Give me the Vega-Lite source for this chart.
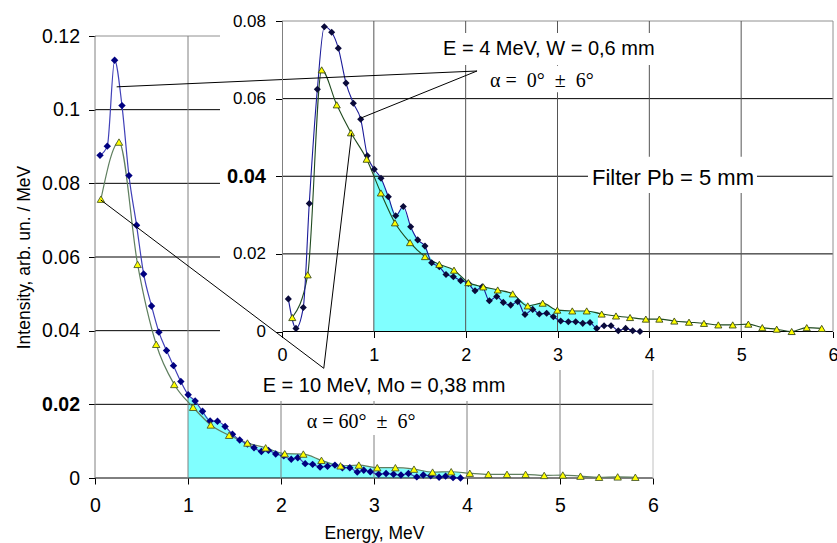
{
  "$schema": "https://vega.github.io/schema/vega-lite/v6.json",
  "width": 558,
  "height": 442,
  "autosize": {"type": "none"},
  "padding": {"left": 95, "top": 36, "right": 184, "bottom": 65},
  "background": "white",
  "config": {
    "view": {"stroke": null},
    "font": "Liberation Sans",
    "axis": {"labelFont": "Liberation Sans", "titleFont": "Liberation Sans", "labelColor": "#000", "titleColor": "#000"}
  },
  "datasets": {
    "mainBlue": [
      {"energy": 0.054, "intensity": 0.0876}, {"energy": 0.132, "intensity": 0.0901}, {"energy": 0.211, "intensity": 0.1134},
      {"energy": 0.290, "intensity": 0.1011}, {"energy": 0.365, "intensity": 0.0821}, {"energy": 0.447, "intensity": 0.0686},
      {"energy": 0.523, "intensity": 0.0554}, {"energy": 0.608, "intensity": 0.0467}, {"energy": 0.687, "intensity": 0.0396},
      {"energy": 0.769, "intensity": 0.0346}, {"energy": 0.844, "intensity": 0.0305}, {"energy": 0.923, "intensity": 0.0262},
      {"energy": 1.002, "intensity": 0.0226}, {"energy": 1.077, "intensity": 0.0209}, {"energy": 1.156, "intensity": 0.0181},
      {"energy": 1.238, "intensity": 0.0155}, {"energy": 1.317, "intensity": 0.0154}, {"energy": 1.399, "intensity": 0.0140},
      {"energy": 1.478, "intensity": 0.0119}, {"energy": 1.556, "intensity": 0.0103}, {"energy": 1.639, "intensity": 0.0092},
      {"energy": 1.710, "intensity": 0.0082}, {"energy": 1.789, "intensity": 0.0072}, {"energy": 1.865, "intensity": 0.0075},
      {"energy": 1.943, "intensity": 0.0065}, {"energy": 2.030, "intensity": 0.0060}, {"energy": 2.110, "intensity": 0.0051},
      {"energy": 2.180, "intensity": 0.0055}, {"energy": 2.260, "intensity": 0.0039}, {"energy": 2.340, "intensity": 0.0037},
      {"energy": 2.420, "intensity": 0.0030}, {"energy": 2.500, "intensity": 0.0032}, {"energy": 2.580, "intensity": 0.0035},
      {"energy": 2.660, "intensity": 0.0028}, {"energy": 2.740, "intensity": 0.0028}, {"energy": 2.820, "intensity": 0.0016},
      {"energy": 2.890, "intensity": 0.0021}, {"energy": 2.960, "intensity": 0.0017}, {"energy": 3.050, "intensity": 0.0010},
      {"energy": 3.130, "intensity": 0.0012}, {"energy": 3.210, "intensity": 0.0010}, {"energy": 3.290, "intensity": 0.0008},
      {"energy": 3.370, "intensity": 0.0012}, {"energy": 3.460, "intensity": 0.0003}, {"energy": 3.530, "intensity": 0.0008},
      {"energy": 3.610, "intensity": 0.0006}, {"energy": 3.700, "intensity": 0.0002}, {"energy": 3.770, "intensity": 0.0005},
      {"energy": 3.850, "intensity": 0.0001}, {"energy": 3.930, "intensity": 0.0000}
    ],
    "mainYellow": [
      {"energy": 0.064, "intensity": 0.0757}, {"energy": 0.258, "intensity": 0.0912}, {"energy": 0.458, "intensity": 0.0580},
      {"energy": 0.658, "intensity": 0.0363}, {"energy": 0.852, "intensity": 0.0254}, {"energy": 1.055, "intensity": 0.0192},
      {"energy": 1.245, "intensity": 0.0144}, {"energy": 1.442, "intensity": 0.0116}, {"energy": 1.639, "intensity": 0.0095},
      {"energy": 1.835, "intensity": 0.0082}, {"energy": 2.040, "intensity": 0.0066}, {"energy": 2.240, "intensity": 0.0065},
      {"energy": 2.435, "intensity": 0.0048}, {"energy": 2.640, "intensity": 0.0033}, {"energy": 2.837, "intensity": 0.0035},
      {"energy": 3.035, "intensity": 0.0028}, {"energy": 3.230, "intensity": 0.0028}, {"energy": 3.430, "intensity": 0.0024},
      {"energy": 3.630, "intensity": 0.0016}, {"energy": 3.830, "intensity": 0.0017}, {"energy": 4.030, "intensity": 0.0013},
      {"energy": 4.230, "intensity": 0.0010}, {"energy": 4.430, "intensity": 0.0010}, {"energy": 4.630, "intensity": 0.0010},
      {"energy": 4.830, "intensity": 0.0007}, {"energy": 5.030, "intensity": 0.0008}, {"energy": 5.220, "intensity": 0.0005},
      {"energy": 5.420, "intensity": 0.0002}, {"energy": 5.620, "intensity": 0.0003}, {"energy": 5.810, "intensity": 0.0002}
    ],
    "mainShade": [
      {"energy": 1.0, "intensity": 0.0224}, {"energy": 1.077, "intensity": 0.0209}, {"energy": 1.156, "intensity": 0.0181},
      {"energy": 1.245, "intensity": 0.0155}, {"energy": 1.317, "intensity": 0.0154}, {"energy": 1.399, "intensity": 0.0140},
      {"energy": 1.478, "intensity": 0.0119}, {"energy": 1.556, "intensity": 0.0103}, {"energy": 1.639, "intensity": 0.0095},
      {"energy": 1.710, "intensity": 0.0085}, {"energy": 1.835, "intensity": 0.0083}, {"energy": 2.040, "intensity": 0.0066},
      {"energy": 2.240, "intensity": 0.0065}, {"energy": 2.435, "intensity": 0.0048}, {"energy": 2.640, "intensity": 0.0035},
      {"energy": 2.837, "intensity": 0.0035}, {"energy": 3.035, "intensity": 0.0028}, {"energy": 3.230, "intensity": 0.0028},
      {"energy": 3.430, "intensity": 0.0024}, {"energy": 3.630, "intensity": 0.0017}, {"energy": 3.830, "intensity": 0.0017},
      {"energy": 3.930, "intensity": 0.0016}
    ],
    "insetBlue": [
      {"energy": 0.069, "intensity": 0.0084}, {"energy": 0.152, "intensity": 0.0008}, {"energy": 0.232, "intensity": 0.0062},
      {"energy": 0.297, "intensity": 0.0330}, {"energy": 0.385, "intensity": 0.0624}, {"energy": 0.461, "intensity": 0.0785},
      {"energy": 0.541, "intensity": 0.0771}, {"energy": 0.613, "intensity": 0.0730}, {"energy": 0.697, "intensity": 0.0640},
      {"energy": 0.777, "intensity": 0.0588}, {"energy": 0.857, "intensity": 0.0547}, {"energy": 0.929, "intensity": 0.0453},
      {"energy": 1.005, "intensity": 0.0418}, {"energy": 1.078, "intensity": 0.0395}, {"energy": 1.158, "intensity": 0.0347},
      {"energy": 1.238, "intensity": 0.0298}, {"energy": 1.321, "intensity": 0.0322}, {"energy": 1.401, "intensity": 0.0270},
      {"energy": 1.478, "intensity": 0.0236}, {"energy": 1.557, "intensity": 0.0220}, {"energy": 1.630, "intensity": 0.0177},
      {"energy": 1.713, "intensity": 0.0167}, {"energy": 1.786, "intensity": 0.0147}, {"energy": 1.866, "intensity": 0.0141},
      {"energy": 1.946, "intensity": 0.0131}, {"energy": 2.029, "intensity": 0.0124}, {"energy": 2.102, "intensity": 0.0105},
      {"energy": 2.181, "intensity": 0.0115}, {"energy": 2.258, "intensity": 0.0079}, {"energy": 2.338, "intensity": 0.0090},
      {"energy": 2.410, "intensity": 0.0075}, {"energy": 2.490, "intensity": 0.0068}, {"energy": 2.567, "intensity": 0.0077},
      {"energy": 2.646, "intensity": 0.0044}, {"energy": 2.730, "intensity": 0.0057}, {"energy": 2.802, "intensity": 0.0045},
      {"energy": 2.882, "intensity": 0.0047}, {"energy": 2.955, "intensity": 0.0038}, {"energy": 3.035, "intensity": 0.0027},
      {"energy": 3.118, "intensity": 0.0025}, {"energy": 3.198, "intensity": 0.0025}, {"energy": 3.275, "intensity": 0.0021},
      {"energy": 3.354, "intensity": 0.0023}, {"energy": 3.427, "intensity": 0.0008}, {"energy": 3.507, "intensity": 0.0015},
      {"energy": 3.583, "intensity": 0.0015}, {"energy": 3.662, "intensity": 0.0002}, {"energy": 3.742, "intensity": 0.0008},
      {"energy": 3.819, "intensity": 0.0002}, {"energy": 3.898, "intensity": 0.0000}
    ],
    "insetYellow": [
      {"energy": 0.112, "intensity": 0.0036}, {"energy": 0.280, "intensity": 0.0146}, {"energy": 0.432, "intensity": 0.0674},
      {"energy": 0.596, "intensity": 0.0584}, {"energy": 0.751, "intensity": 0.0512}, {"energy": 0.922, "intensity": 0.0444},
      {"energy": 1.077, "intensity": 0.0357}, {"energy": 1.230, "intensity": 0.0280}, {"energy": 1.394, "intensity": 0.0229},
      {"energy": 1.557, "intensity": 0.0193}, {"energy": 1.713, "intensity": 0.0173}, {"energy": 1.873, "intensity": 0.0158},
      {"energy": 2.029, "intensity": 0.0126}, {"energy": 2.192, "intensity": 0.0115}, {"energy": 2.349, "intensity": 0.0107},
      {"energy": 2.512, "intensity": 0.0097}, {"energy": 2.676, "intensity": 0.0066}, {"energy": 2.839, "intensity": 0.0073},
      {"energy": 2.998, "intensity": 0.0055}, {"energy": 3.161, "intensity": 0.0053}, {"energy": 3.318, "intensity": 0.0053},
      {"energy": 3.481, "intensity": 0.0045}, {"energy": 3.637, "intensity": 0.0040}, {"energy": 3.790, "intensity": 0.0036},
      {"energy": 3.962, "intensity": 0.0032}, {"energy": 4.109, "intensity": 0.0032}, {"energy": 4.272, "intensity": 0.0027},
      {"energy": 4.432, "intensity": 0.0024}, {"energy": 4.595, "intensity": 0.0021}, {"energy": 4.751, "intensity": 0.0017},
      {"energy": 4.908, "intensity": 0.0017}, {"energy": 5.078, "intensity": 0.0019}, {"energy": 5.230, "intensity": 0.0010},
      {"energy": 5.387, "intensity": 0.0006}, {"energy": 5.550, "intensity": 0.0000}, {"energy": 5.714, "intensity": 0.0010},
      {"energy": 5.877, "intensity": 0.0008}
    ],
    "insetShade": [
      {"energy": 1.0, "intensity": 0.0412}, {"energy": 1.078, "intensity": 0.0395}, {"energy": 1.158, "intensity": 0.0347},
      {"energy": 1.238, "intensity": 0.0298}, {"energy": 1.321, "intensity": 0.0322}, {"energy": 1.401, "intensity": 0.0270},
      {"energy": 1.478, "intensity": 0.0236}, {"energy": 1.557, "intensity": 0.0220}, {"energy": 1.630, "intensity": 0.0185},
      {"energy": 1.713, "intensity": 0.0173}, {"energy": 1.873, "intensity": 0.0158}, {"energy": 2.029, "intensity": 0.0126},
      {"energy": 2.192, "intensity": 0.0115}, {"energy": 2.349, "intensity": 0.0107}, {"energy": 2.512, "intensity": 0.0097},
      {"energy": 2.676, "intensity": 0.0068}, {"energy": 2.839, "intensity": 0.0073}, {"energy": 2.998, "intensity": 0.0055},
      {"energy": 3.161, "intensity": 0.0053}, {"energy": 3.318, "intensity": 0.0053}, {"energy": 3.440, "intensity": 0.0050}
    ],
    "mainGridY": [{"v": 0}, {"v": 0.02}, {"v": 0.04}, {"v": 0.06}, {"v": 0.08}, {"v": 0.1}],
    "mainGridX": [{"v": 0}, {"v": 1}, {"v": 2}, {"v": 3}, {"v": 4}, {"v": 5}],
    "insetGridY": [{"v": 0}, {"v": 0.02}, {"v": 0.04}, {"v": 0.06}],
    "insetGridX": [{"v": 1}, {"v": 2}, {"v": 3}, {"v": 4}, {"v": 5}],
    "one": [{}]
  },
  "resolve": {"scale": {"x": "independent", "y": "independent"}},
  "layer": [
    {
      "layer": [
        {
          "data": {"name": "mainShade"},
          "mark": {"type": "area", "color": "#80FFFF", "opacity": 1},
          "encoding": {
            "x": {"field": "energy", "type": "quantitative", "scale": {"domain": [0, 6], "nice": false, "zero": false}},
            "y": {"field": "intensity", "type": "quantitative", "scale": {"domain": [0, 0.12], "nice": false, "zero": false}}
          }
        },
        {
          "data": {"name": "mainGridY"},
          "mark": {"type": "rule", "color": "#000", "strokeWidth": 1},
          "encoding": {
            "y": {"field": "v", "type": "quantitative",
              "axis": {"values": [0, 0.02, 0.04, 0.06, 0.08, 0.1, 0.12], "format": "~g", "title": "Intensity, arb. un. / MeV",
                "titleFontSize": 17.5, "titleFontWeight": "normal", "titlePadding": 8,
                "labelFontSize": 19.5, "labelFontWeight": {"condition": {"test": "datum.value == 0.02", "value": "bold"}, "value": "normal"},
                "labelPadding": 9, "tickSize": 6.5, "tickColor": "#000", "domain": false, "grid": false, "labelOverlap": false, "labelFlush": false, "zindex": 0}},
            "x": {"datum": 0, "type": "quantitative"},
            "x2": {"datum": 6}
          }
        },
        {
          "data": {"name": "one"},
          "mark": {"type": "rule", "color": "#909090", "strokeWidth": 1},
          "encoding": {"y": {"datum": 0.12, "type": "quantitative"}, "x": {"datum": 0, "type": "quantitative"}, "x2": {"datum": 6}}
        },
        {
          "data": {"name": "mainGridX"},
          "mark": {"type": "rule", "color": "#808080", "strokeWidth": 1},
          "encoding": {
            "x": {"field": "v", "type": "quantitative",
              "axis": {"values": [0, 1, 2, 3, 4, 5, 6], "format": "d", "title": "Energy, MeV",
                "titleFontSize": 17.5, "titleFontWeight": "normal", "titlePadding": 10,
                "labelFontSize": 19.5, "labelPadding": 12, "tickSize": 6, "tickColor": "#000",
                "domain": false, "grid": false, "labelFlush": false, "labelOverlap": false, "zindex": 0}},
            "y": {"datum": 0, "type": "quantitative"},
            "y2": {"datum": 0.12}
          }
        },
        {
          "data": {"name": "one"},
          "mark": {"type": "rule", "color": "#C0C0C0", "strokeWidth": 1},
          "encoding": {"x": {"datum": 6, "type": "quantitative"}, "y": {"datum": 0, "type": "quantitative"}, "y2": {"datum": 0.12}}
        },
        {
          "data": {"name": "mainYellow"},
          "mark": {"type": "line", "color": "#5F7F5F", "strokeWidth": 1.2, "interpolate": "monotone"},
          "encoding": {"x": {"field": "energy", "type": "quantitative"}, "y": {"field": "intensity", "type": "quantitative"}}
        },
        {
          "data": {"name": "mainBlue"},
          "mark": {"type": "line", "color": "#4040B8", "strokeWidth": 1.2, "interpolate": "monotone"},
          "encoding": {"x": {"field": "energy", "type": "quantitative"}, "y": {"field": "intensity", "type": "quantitative"}}
        },
        {
          "data": {"name": "mainBlue"},
          "mark": {"type": "point", "shape": "diamond", "filled": true, "color": "#000080", "size": 55, "opacity": 1},
          "encoding": {"x": {"field": "energy", "type": "quantitative"}, "y": {"field": "intensity", "type": "quantitative"}}
        },
        {
          "data": {"name": "mainYellow"},
          "mark": {"type": "point", "shape": "triangle-up", "filled": true, "fill": "#FFFF00", "stroke": "#4A5A2A", "strokeWidth": 0.9, "size": 55, "opacity": 1},
          "encoding": {"x": {"field": "energy", "type": "quantitative"}, "y": {"field": "intensity", "type": "quantitative"}}
        },
        {
          "data": {"name": "one"},
          "mark": {"type": "rect", "color": "white", "opacity": 1},
          "encoding": {"x": {"datum": 1.344, "type": "quantitative"}, "x2": {"datum": 7.98}, "y": {"datum": 0.0293, "type": "quantitative"}, "y2": {"datum": 0.1298}}
        }
      ]
    },
    {
      "layer": [
        {
          "data": {"name": "insetShade"},
          "mark": {"type": "area", "color": "#80FFFF", "opacity": 1},
          "encoding": {
            "x": {"field": "energy", "type": "quantitative", "scale": {"domain": [0, 6], "range": [187, 738], "nice": false, "zero": false}},
            "y": {"field": "intensity", "type": "quantitative", "scale": {"domain": [0, 0.08], "range": [295.5, -15], "nice": false, "zero": false}}
          }
        },
        {
          "data": {"name": "insetGridY"},
          "mark": {"type": "rule", "color": "#000", "strokeWidth": 1},
          "encoding": {
            "y": {"field": "v", "type": "quantitative",
              "axis": {"orient": "left", "offset": -187, "values": [0, 0.02, 0.04, 0.06, 0.08], "format": "~g", "title": null,
                "labelFontSize": {"condition": {"test": "datum.value == 0.04", "value": 20}, "value": 17},
                "labelFontWeight": {"condition": {"test": "datum.value == 0.04", "value": "bold"}, "value": "normal"},
                "labelPadding": 10, "tickSize": 6.5, "tickColor": "#000", "domain": true, "domainColor": "#808080",
                "grid": false, "labelOverlap": false, "labelFlush": false, "zindex": 1}},
            "x": {"datum": 0, "type": "quantitative"},
            "x2": {"datum": 6}
          }
        },
        {
          "data": {"name": "one"},
          "mark": {"type": "rule", "color": "#909090", "strokeWidth": 1},
          "encoding": {"y": {"datum": 0.08, "type": "quantitative"}, "x": {"datum": 0, "type": "quantitative"}, "x2": {"datum": 6}}
        },
        {
          "data": {"name": "insetGridX"},
          "mark": {"type": "rule", "color": "#555555", "strokeWidth": 1},
          "encoding": {
            "x": {"field": "v", "type": "quantitative",
              "axis": {"orient": "bottom", "offset": -146.5, "values": [0, 1, 2, 3, 4, 5, 6], "format": "d", "title": null,
                "labelFontSize": 18, "labelPadding": 9, "tickSize": 6, "tickColor": "#000",
                "domain": false, "grid": false, "labelFlush": false, "labelOverlap": false, "zindex": 1}},
            "y": {"datum": 0, "type": "quantitative"},
            "y2": {"datum": 0.08}
          }
        },
        {
          "data": {"name": "one"},
          "mark": {"type": "rule", "color": "#909090", "strokeWidth": 1},
          "encoding": {"x": {"datum": 6, "type": "quantitative"}, "y": {"datum": 0, "type": "quantitative"}, "y2": {"datum": 0.08}}
        },
        {
          "data": {"name": "insetYellow"},
          "mark": {"type": "line", "color": "#1F4A1F", "strokeWidth": 1.1, "interpolate": "monotone"},
          "encoding": {"x": {"field": "energy", "type": "quantitative"}, "y": {"field": "intensity", "type": "quantitative"}}
        },
        {
          "data": {"name": "insetBlue"},
          "mark": {"type": "line", "color": "#1A1A99", "strokeWidth": 1.1, "interpolate": "monotone"},
          "encoding": {"x": {"field": "energy", "type": "quantitative"}, "y": {"field": "intensity", "type": "quantitative"}}
        },
        {
          "data": {"name": "insetBlue"},
          "mark": {"type": "point", "shape": "diamond", "filled": true, "color": "#0A0A3A", "size": 50, "opacity": 1},
          "encoding": {"x": {"field": "energy", "type": "quantitative"}, "y": {"field": "intensity", "type": "quantitative"}}
        },
        {
          "data": {"name": "insetYellow"},
          "mark": {"type": "point", "shape": "triangle-up", "filled": true, "fill": "#FFFF00", "stroke": "#3A4A1A", "strokeWidth": 0.9, "size": 50, "opacity": 1},
          "encoding": {"x": {"field": "energy", "type": "quantitative"}, "y": {"field": "intensity", "type": "quantitative"}}
        }
      ]
    },
    {
      "data": {"name": "one"},
      "layer": [
        {"mark": {"type": "rect", "color": "white"},
         "encoding": {"x": {"datum": 3.688, "type": "quantitative", "scale": {"domain": [0, 6], "nice": false, "zero": false}, "axis": null}, "x2": {"datum": 6.075},
                      "y": {"datum": 0.1121, "type": "quantitative", "scale": {"domain": [0, 0.12], "nice": false, "zero": false}, "axis": null}, "y2": {"datum": 0.1208}}},
        {"mark": {"type": "rect", "color": "white"},
         "encoding": {"x": {"datum": 4.194, "type": "quantitative", "axis": null}, "x2": {"datum": 5.43}, "y": {"datum": 0.1047, "type": "quantitative", "axis": null}, "y2": {"datum": 0.1119}}},
        {"mark": {"type": "rect", "color": "white"},
         "encoding": {"x": {"datum": 5.301, "type": "quantitative", "axis": null}, "x2": {"datum": 7.118}, "y": {"datum": 0.0774, "type": "quantitative", "axis": null}, "y2": {"datum": 0.0872}}},
        {"mark": {"type": "rect", "color": "white"},
         "encoding": {"x": {"datum": 1.72, "type": "quantitative", "axis": null}, "x2": {"datum": 4.516}, "y": {"datum": 0.0209, "type": "quantitative", "axis": null}, "y2": {"datum": 0.031}}},
        {"mark": {"type": "rect", "color": "white"},
         "encoding": {"x": {"datum": 2.204, "type": "quantitative", "axis": null}, "x2": {"datum": 3.495}, "y": {"datum": 0.0117, "type": "quantitative", "axis": null}, "y2": {"datum": 0.0198}}},
        {"mark": {"type": "rule", "color": "#000", "strokeWidth": 1},
         "encoding": {"x": {"datum": 0.233, "type": "quantitative", "axis": null}, "y": {"datum": 0.1062, "type": "quantitative", "axis": null}, "x2": {"datum": 4.108}, "y2": {"datum": 0.1105}}},
        {"mark": {"type": "rule", "color": "#000", "strokeWidth": 1},
         "encoding": {"x": {"datum": 2.857, "type": "quantitative", "axis": null}, "y": {"datum": 0.0977, "type": "quantitative", "axis": null}, "x2": {"datum": 4.108}, "y2": {"datum": 0.1105}}},
        {"mark": {"type": "rule", "color": "#000", "strokeWidth": 1},
         "encoding": {"x": {"datum": 0.0613, "type": "quantitative", "axis": null}, "y": {"datum": 0.0755, "type": "quantitative", "axis": null}, "x2": {"datum": 2.46}, "y2": {"datum": 0.02978}}},
        {"mark": {"type": "rule", "color": "#000", "strokeWidth": 1},
         "encoding": {"x": {"datum": 2.76, "type": "quantitative", "axis": null}, "y": {"datum": 0.0936, "type": "quantitative", "axis": null}, "x2": {"datum": 2.46}, "y2": {"datum": 0.02978}}},
        {"mark": {"type": "text", "text": "E = 4 MeV, W = 0,6 mm", "align": "left", "baseline": "alphabetic", "font": "Liberation Sans", "fontSize": 20, "color": "#000"},
         "encoding": {"x": {"datum": 3.742, "type": "quantitative", "axis": null}, "y": {"datum": 0.1148, "type": "quantitative", "axis": null}}},
        {"mark": {"type": "text", "text": "α\u00a0=\u00a0\u00a00°\u00a0\u00a0±\u00a0\u00a06°", "align": "left", "baseline": "alphabetic", "font": "Liberation Serif", "fontSize": 20, "color": "#000"},
         "encoding": {"x": {"datum": 4.247, "type": "quantitative", "axis": null}, "y": {"datum": 0.1062, "type": "quantitative", "axis": null}}},
        {"mark": {"type": "text", "text": "Filter Pb = 5 mm", "align": "left", "baseline": "alphabetic", "font": "Liberation Sans", "fontSize": 22, "color": "#000"},
         "encoding": {"x": {"datum": 5.344, "type": "quantitative", "axis": null}, "y": {"datum": 0.0795, "type": "quantitative", "axis": null}}},
        {"mark": {"type": "text", "text": "E = 10 MeV, Mo = 0,38 mm", "align": "left", "baseline": "alphabetic", "font": "Liberation Sans", "fontSize": 20, "color": "#000"},
         "encoding": {"x": {"datum": 1.803, "type": "quantitative", "axis": null}, "y": {"datum": 0.02343, "type": "quantitative", "axis": null}}},
        {"mark": {"type": "text", "text": "α\u00a0=\u00a060°\u00a0\u00a0±\u00a0\u00a06°", "align": "left", "baseline": "alphabetic", "font": "Liberation Serif", "fontSize": 20, "color": "#000"},
         "encoding": {"x": {"datum": 2.276, "type": "quantitative", "axis": null}, "y": {"datum": 0.01349, "type": "quantitative", "axis": null}}}
      ]
    }
  ]
}
